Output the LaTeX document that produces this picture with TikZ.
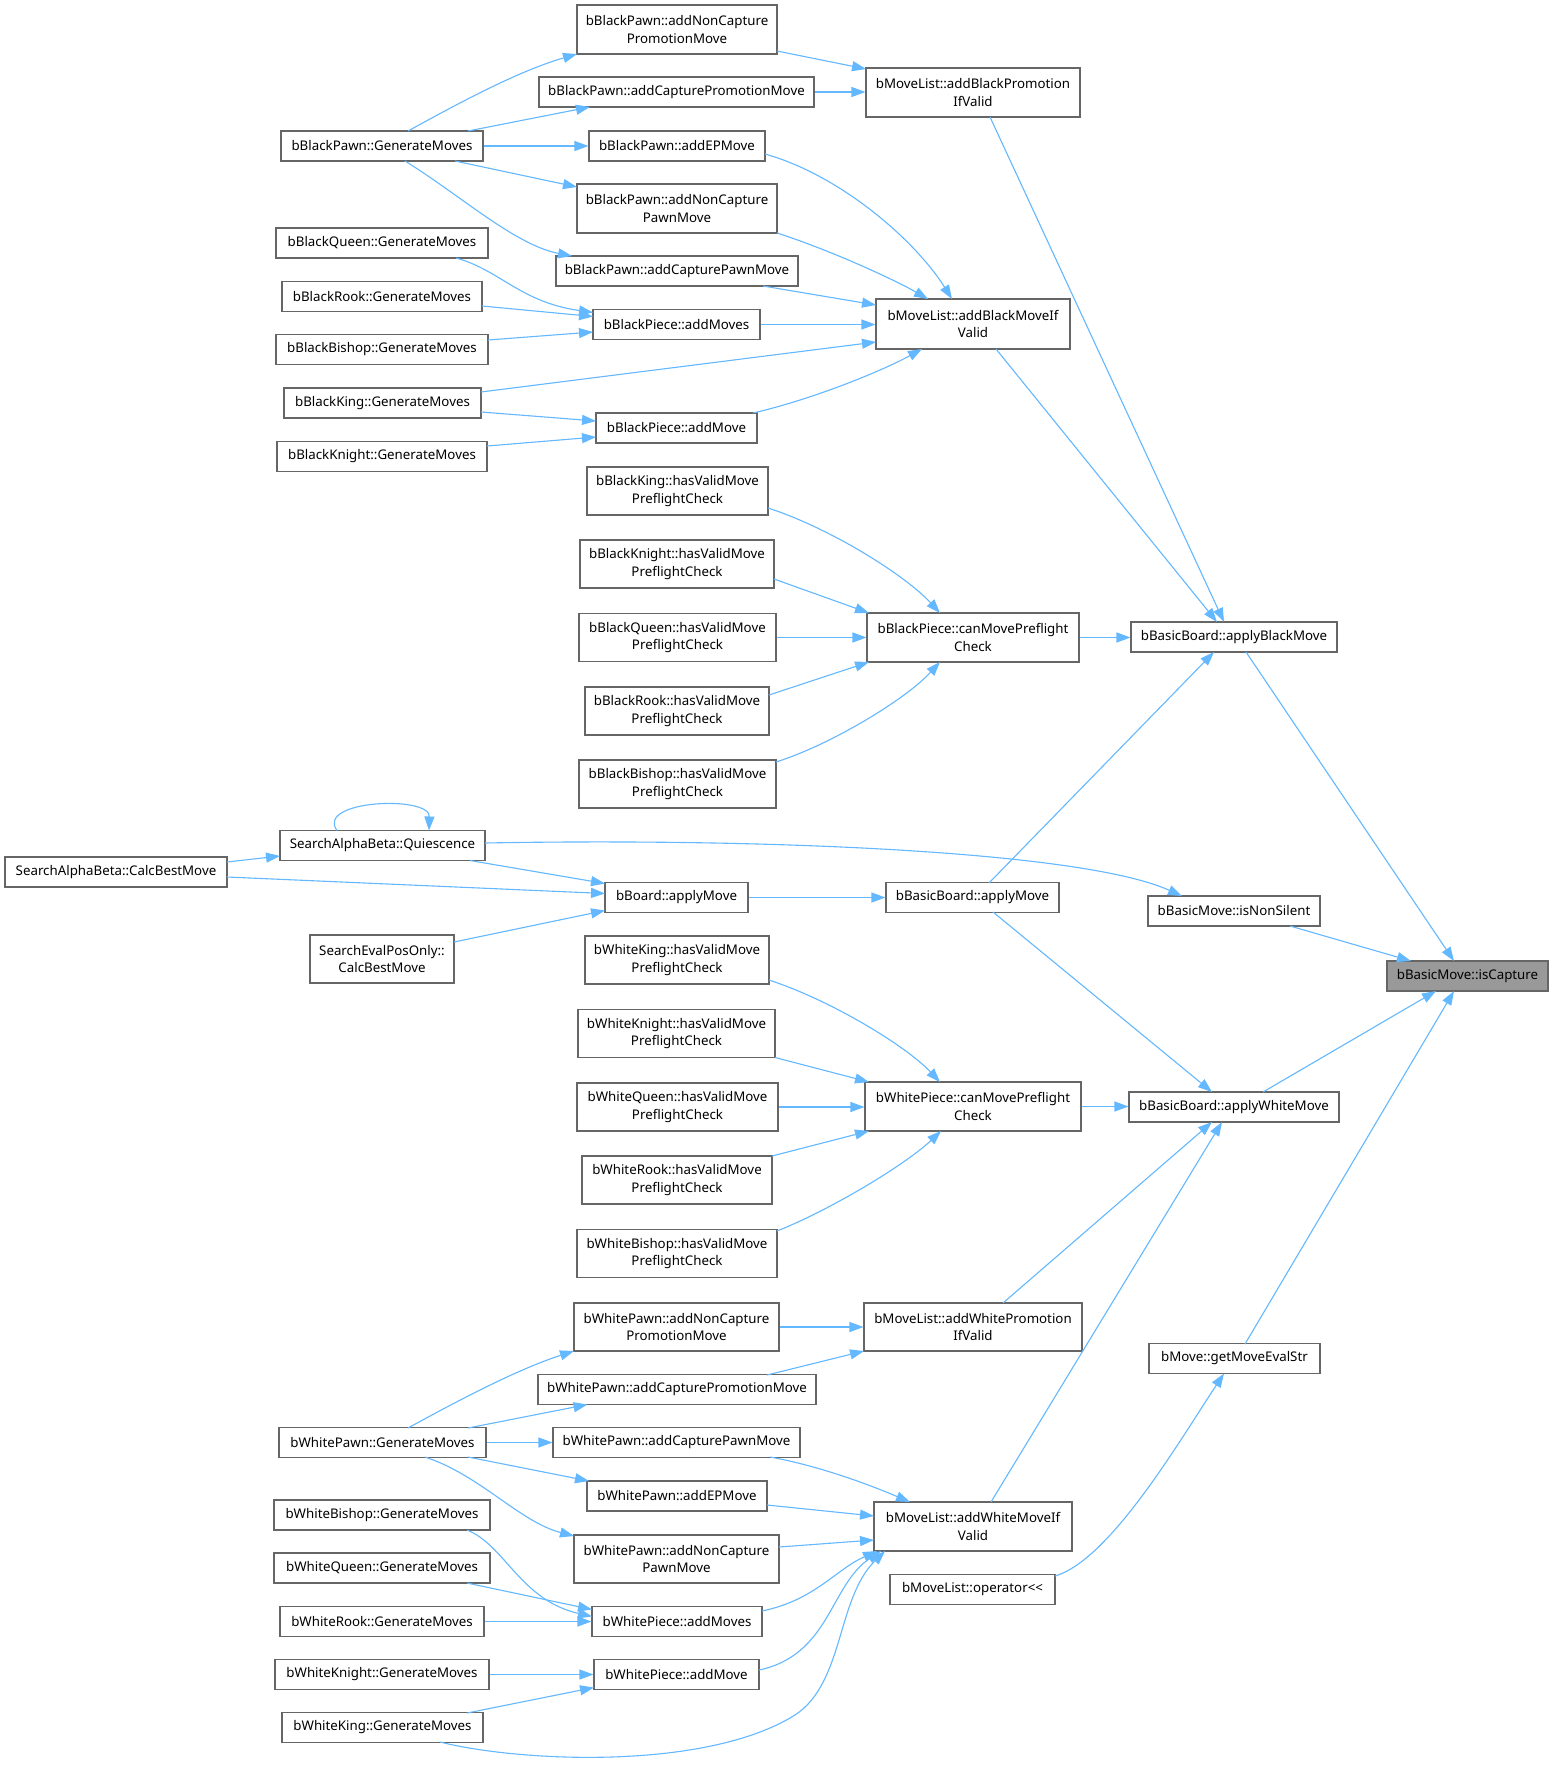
\documentclass[tikz,border=0pt]{standalone}
\usepackage{fontspec}
\setmainfont{Noto Sans}
\usetikzlibrary{arrows.meta,calc}
\definecolor{edgecol}{HTML}{63B8FF}
\definecolor{boxline}{HTML}{666666}
\definecolor{curfill}{HTML}{999999}
\begin{document}
\begin{tikzpicture}[x=1pt,y=-1pt,
  box/.style={draw=boxline,line width=1.1pt,fill=white,inner sep=0pt,align=center,
     font=\fontsize{13.3}{17.5}\selectfont,minimum height=30pt},
  e/.style={draw=edgecol,line width=1.1pt,-{Triangle[length=14pt,width=10pt]}}]
\useasboundingbox[fill=white] (0,0) rectangle (1554,1767);
% ---- nodes: black side
\node[box,minimum width=200pt,minimum height=49pt] (bpncpr) at (677,29.5) {bBlackPawn::addNonCapture\\PromotionMove};
\node[box,minimum width=275pt] (bpcpr) at (676.5,92) {bBlackPawn::addCapturePromotionMove};
\node[box,minimum width=202pt] (bpgen) at (382,146) {bBlackPawn::GenerateMoves};
\node[box,minimum width=176pt] (bpep) at (677,146) {bBlackPawn::addEPMove};
\node[box,minimum width=200pt,minimum height=49pt] (bpncpa) at (677,208.5) {bBlackPawn::addNonCapture\\PawnMove};
\node[box,minimum width=212pt] (bqgen) at (382,243) {bBlackQueen::GenerateMoves};
\node[box,minimum width=242pt] (bpcpa) at (677,271) {bBlackPawn::addCapturePawnMove};
\node[box,minimum width=200pt] (brgen) at (382,296.5) {bBlackRook::GenerateMoves};
\node[box,minimum width=167pt] (bpams) at (676.5,324.5) {bBlackPiece::addMoves};
\node[box,minimum width=212pt] (bbgen) at (382,349.5) {bBlackBishop::GenerateMoves};
\node[box,minimum width=197pt] (bkgen) at (382.5,403) {bBlackKing::GenerateMoves};
\node[box,minimum width=161pt] (bpam) at (676.5,428) {bBlackPiece::addMove};
\node[box,minimum width=210pt] (bngen) at (382,456.5) {bBlackKnight::GenerateMoves};
\node[box,minimum width=214pt,minimum height=49pt] (mlbp) at (973,92.5) {bMoveList::addBlackPromotion\\IfValid};
\node[box,minimum width=194pt,minimum height=50pt] (mlbm) at (973,324) {bMoveList::addBlackMoveIf\\Valid};
\node[box,minimum width=181pt,minimum height=48pt] (bkhv) at (677.5,491) {bBlackKing::hasValidMove\\PreflightCheck};
\node[box,minimum width=194pt,minimum height=48pt] (bnhv) at (677,564) {bBlackKnight::hasValidMove\\PreflightCheck};
\node[box,minimum width=197pt,minimum height=48pt] (bqhv) at (677.5,637.5) {bBlackQueen::hasValidMove\\PreflightCheck};
\node[box,minimum width=184pt,minimum height=48pt] (brhv) at (677,711) {bBlackRook::hasValidMove\\PreflightCheck};
\node[box,minimum width=197pt,minimum height=48pt] (bbhv) at (677.5,784) {bBlackBishop::hasValidMove\\PreflightCheck};
\node[box,minimum width=212pt,minimum height=49pt] (bpcm) at (973,637.5) {bBlackPiece::canMovePreflight\\Check};
\node[box,minimum width=206pt] (abm) at (1234,637) {bBasicBoard::applyBlackMove};
% ---- middle
\node[box,minimum width=205pt] (qui) at (382.5,845.5) {SearchAlphaBeta::Quiescence};
\node[box,minimum width=222pt] (cbm) at (116,872) {SearchAlphaBeta::CalcBestMove};
\node[box,minimum width=143pt] (bam) at (676.5,897.5) {bBoard::applyMove};
\node[box,minimum width=144pt,minimum height=48pt] (sepo) at (382,959) {SearchEvalPosOnly::\\CalcBestMove};
\node[box,minimum width=173pt] (bbam) at (972.5,897.5) {bBasicBoard::applyMove};
\node[box,minimum width=172pt] (ins) at (1234,911) {bBasicMove::isNonSilent};
\node[box,minimum width=161pt,fill=curfill] (isc) at (1467.5,976) {bBasicMove::isCapture};
% ---- white side
\node[box,minimum width=184pt,minimum height=48pt] (wkhv) at (677,960) {bWhiteKing::hasValidMove\\PreflightCheck};
\node[box,minimum width=197pt,minimum height=48pt] (wnhv) at (676.5,1033.5) {bWhiteKnight::hasValidMove\\PreflightCheck};
\node[box,minimum width=201pt,minimum height=48pt] (wqhv) at (677.5,1107) {bWhiteQueen::hasValidMove\\PreflightCheck};
\node[box,minimum width=190pt,minimum height=48pt] (wrhv) at (677,1180) {bWhiteRook::hasValidMove\\PreflightCheck};
\node[box,minimum width=200pt,minimum height=48pt] (wbhv) at (677,1253.5) {bWhiteBishop::hasValidMove\\PreflightCheck};
\node[box,minimum width=216pt,minimum height=49pt] (wpcm) at (973,1106.5) {bWhitePiece::canMovePreflight\\Check};
\node[box,minimum width=210pt] (awm) at (1234,1107) {bBasicBoard::applyWhiteMove};
\node[box,minimum width=205pt,minimum height=48pt] (wpncpr) at (676.5,1327) {bWhitePawn::addNonCapture\\PromotionMove};
\node[box,minimum width=218pt,minimum height=48pt] (mlwp) at (973,1327) {bMoveList::addWhitePromotion\\IfValid};
\node[box,minimum width=171pt] (gmes) at (1234.5,1358.5) {bMove::getMoveEvalStr};
\node[box,minimum width=278pt] (wpcpr) at (677,1389.5) {bWhitePawn::addCapturePromotionMove};
\node[box,minimum width=207pt] (wpgen) at (382.5,1442.5) {bWhitePawn::GenerateMoves};
\node[box,minimum width=247pt] (wpcpa) at (676.5,1442.5) {bWhitePawn::addCapturePawnMove};
\node[box,minimum width=180pt] (wpep) at (677,1496) {bWhitePawn::addEPMove};
\node[box,minimum width=216pt] (wbgen) at (382,1515) {bWhiteBishop::GenerateMoves};
\node[box,minimum width=198pt,minimum height=49pt] (mlwm) at (973,1526.5) {bMoveList::addWhiteMoveIf\\Valid};
\node[box,minimum width=205pt,minimum height=48pt] (wpncpa) at (676.5,1559) {bWhitePawn::addNonCapture\\PawnMove};
\node[box,minimum width=216pt] (wqgen) at (382,1568) {bWhiteQueen::GenerateMoves};
\node[box,minimum width=165pt] (mlop) at (972.5,1589.5) {bMoveList::operator<\kern0pt<};
\node[box,minimum width=170pt] (wpams) at (677,1621.5) {bWhitePiece::addMoves};
\node[box,minimum width=204pt] (wrgen) at (382,1621.5) {bWhiteRook::GenerateMoves};
\node[box,minimum width=214pt] (wngen) at (382,1674.5) {bWhiteKnight::GenerateMoves};
\node[box,minimum width=165pt] (wpam) at (676.5,1674.5) {bWhitePiece::addMove};
\node[box,minimum width=201pt] (wkgen) at (382.5,1727.5) {bWhiteKing::GenerateMoves};
% ---- edges: black side
\draw[e] ($(bpgen)+(26,-15)$) .. controls (450,108) and (515,72) .. ($(bpncpr)+(-100,24.5)$);
\draw[e] ($(bpgen)+(86,-15)$) -- ($(bpcpr)+(-86.5,15)$);
\draw[e] (bpgen.east) -- (bpep.west);
\draw[e] ($(bpgen)+(73,15)$) -- ($(bpncpa)+(-100,-21.5)$);
\draw[e] ($(bpgen)+(23,15)$) .. controls (460,195) and (515,245) .. ($(bpcpa)+(-105,-15)$);
\draw[e] ($(bpncpr)+(100,21.5)$) -- ($(mlbp)+(-107,-23.5)$);
\draw[e] (bpcpr.east) -- (bpcpr.east -| mlbp.west);
\draw[e] ($(bpep)+(88,8)$) .. controls (840,175) and (915,240) .. ($(mlbm)+(-21,-25)$);
\draw[e] ($(bpncpa)+(100,24.5)$) .. controls (830,250) and (895,280) .. ($(mlbm)+(-45,-25)$);
\draw[e] ($(bpcpa)+(86,15)$) -- ($(mlbm)+(-97,-19)$);
\draw[e] (bpams.east) -- (bpams.east -| mlbm.west);
\draw[e] ($(bkgen)+(98.5,-11)$) -- ($(mlbm)+(-97,18)$);
\draw[e] ($(bpam)+(76.5,-15)$) .. controls (810,400) and (880,372) .. ($(mlbm)+(-51,25)$);
\draw[e] ($(bqgen)+(74,15)$) .. controls (500,270) and (520,302) .. ($(bpams)+(-83.5,-12)$);
\draw[e] ($(brgen)+(100,9.5)$) -- ($(bpams)+(-83.5,-8)$);
\draw[e] ($(bbgen)+(106,-9.5)$) -- ($(bpams)+(-83.5,7.5)$);
\draw[e] ($(bkgen)+(98.5,9)$) -- ($(bpam)+(-80.5,-7)$);
\draw[e] ($(bngen)+(105,-10.5)$) -- ($(bpam)+(-80.5,9)$);
\draw[e] ($(mlbp)+(17,24.5)$) -- ($(abm)+(-10,-15)$);
\draw[e] ($(mlbm)+(23,25)$) -- ($(abm)+(-17,-15)$);
\draw[e] ($(bkhv)+(90.5,17)$) .. controls (830,528) and (905,575) .. ($(bpcm)+(-33,-24.5)$);
\draw[e] ($(bnhv)+(97,15)$) -- ($(bpcm)+(-104,-24.5)$);
\draw[e] (bqhv.east) -- (bqhv.east -| bpcm.west);
\draw[e] ($(brhv)+(92,-16)$) -- ($(bpcm)+(-104,24.5)$);
\draw[e] ($(bbhv)+(98.5,-22)$) .. controls (830,745) and (905,700) .. ($(bpcm)+(-33,24.5)$);
\draw[e] (bpcm.east) -- (bpcm.east -| abm.west);
% ---- edges: middle
\draw[e] ($(bbam)+(16.5,-14.5)$) -- ($(abm)+(-20,15)$);
\draw[e] ($(abm)+(12,15)$) -- ($(isc)+(-13.5,-15)$);
\draw[e] ($(ins)+(56,15)$) -- ($(isc)+(-56.5,-15)$);
\draw[e] ($(awm)+(29,-15)$) -- ($(isc)+(-31.5,15)$);
\draw[e] ($(gmes)+(10.5,-14.5)$) -- ($(isc)+(-13.5,15)$);
\draw[e] ($(qui)+(102.5,-2.5)$) .. controls (750,838) and (1080,850) .. ($(ins)+(-52,-15)$);
\draw[e] ($(qui)+(-45.5,-15)$) .. controls (315,800) and (430,795) .. ($(qui)+(46.5,-15)$);
\draw[e] ($(cbm)+(111,-10)$) -- ($(qui)+(-102.5,10.5)$);
\draw[e] ($(cbm)+(111,5)$) -- ($(bam)+(-71.5,-4)$);
\draw[e] ($(qui)+(87.5,15)$) -- ($(bam)+(-71.5,-14)$);
\draw[e] ($(sepo)+(72,-17)$) -- ($(bam)+(-71.5,13)$);
\draw[e] (bam.east) -- (bbam.west);
\draw[e] ($(bbam)+(20.5,14.5)$) -- ($(awm)+(-22,-15)$);
% ---- edges: white side
\draw[e] ($(wkhv)+(92,20)$) .. controls (830,1000) and (905,1045) .. ($(wpcm)+(-33,-24.5)$);
\draw[e] ($(wnhv)+(98.5,24)$) -- ($(wpcm)+(-104,-24.5)$);
\draw[e] (wqhv.east) -- (wqhv.east -| wpcm.west);
\draw[e] ($(wrhv)+(95,-24)$) -- ($(wpcm)+(-104,24.5)$);
\draw[e] ($(wbhv)+(100,-22.5)$) .. controls (830,1210) and (905,1165) .. ($(wpcm)+(-32,24.5)$);
\draw[e] (wpcm.east) -- (wpcm.east -| awm.west);
\draw[e] ($(mlwp)+(30,-24)$) -- ($(awm)+(-22,15)$);
\draw[e] ($(mlwm)+(18,-24.5)$) -- ($(awm)+(-12,15)$);
\draw[e] (wpncpr.east) -- (mlwp.west);
\draw[e] ($(wpcpr)+(90,-14.5)$) -- ($(mlwp)+(-109,24)$);
\draw[e] ($(wpgen)+(25.5,-14.5)$) .. controls (450,1405) and (515,1370) .. ($(wpncpr)+(-102.5,24)$);
\draw[e] ($(wpgen)+(85.5,-14.5)$) -- ($(wpcpr)+(-89.5,15)$);
\draw[e] (wpgen.east) -- (wpcpa.west);
\draw[e] ($(wpgen)+(85.5,14.5)$) -- ($(wpep)+(-88,-15)$);
\draw[e] ($(wpgen)+(42.5,14.5)$) .. controls (480,1475) and (520,1522) .. ($(wpncpa)+(-102.5,-23)$);
\draw[e] ($(wpcpa)+(93.5,14.5)$) .. controls (820,1466) and (870,1485) .. ($(mlwm)+(-63,-24.5)$);
\draw[e] ($(wpep)+(90,9)$) -- ($(mlwm)+(-99,-10.5)$);
\draw[e] ($(wpncpa)+(102.5,-12)$) -- ($(mlwm)+(-99,13.5)$);
\draw[e] ($(wpams)+(85,-10.5)$) .. controls (815,1600) and (835,1570) .. ($(mlwm)+(-96,24.5)$);
\draw[e] ($(wpam)+(82.5,-4.5)$) .. controls (830,1655) and (830,1585) .. ($(mlwm)+(-92,24.5)$);
\draw[e] ($(wkgen)+(57.5,14.5)$) .. controls (520,1762) and (700,1770) .. (790,1718) .. controls (845,1688) and (835,1600) .. ($(mlwm)+(-88,24.5)$);
\draw[e] ($(wbgen)+(85,15)$) .. controls (505,1545) and (520,1600) .. ($(wpams)+(-85,-5)$);
\draw[e] ($(wqgen)+(85,15)$) -- ($(wpams)+(-85,-12)$);
\draw[e] (wrgen.east) -- (wpams.west);
\draw[e] (wngen.east) -- (wpam.west);
\draw[e] ($(wkgen)+(84.5,-14.5)$) -- ($(wpam)+(-82.5,13)$);
\draw[e] ($(mlop)+(82.5,-13.5)$) .. controls (1110,1560) and (1180,1440) .. ($(gmes)+(-10.5,15)$);
\end{tikzpicture}
\end{document}
